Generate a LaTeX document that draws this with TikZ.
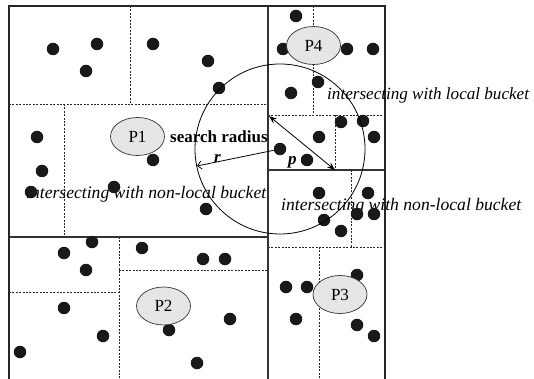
\documentclass[tikz,border=0pt]{standalone}
\usepackage{fontspec}
\setmainfont{Liberation Serif}
\usetikzlibrary{arrows.meta,shapes.geometric}
\begin{document}
\begin{tikzpicture}[x=1pt,y=-1pt,
  dot/.style={circle,fill=black!90,inner sep=0pt,minimum size=12.5pt},
  pnode/.style={ellipse,draw=black!80,line width=0.7pt,fill=black!10,inner sep=0pt,
    minimum width=54pt,minimum height=38pt,font=\fontsize{17}{20}\selectfont},
  dashline/.style={line width=0.7pt,dash pattern=on 2pt off 1.4pt,black!85},
  frameline/.style={line width=2.2pt,black!85},
  solidline/.style={line width=1.5pt,black!80},
  lbl/.style={inner sep=0pt,anchor=base west,font=\fontsize{17.6}{20}\selectfont\itshape},
  conn/.style={line width=0.8pt,black}]
\useasboundingbox (0,0) rectangle (534,379);
\begin{scope}
\clip (0,0) rectangle (534,379);
% dashed bucket borders
\draw[dashline] (9,104) -- (268,104);
\draw[dashline] (130,6) -- (130,104);
\draw[dashline] (64,104) -- (64,237);
\draw[dashline] (119,237) -- (119,390);
\draw[dashline] (9,292) -- (119,292);
\draw[dashline] (119,270) -- (268,270);
\draw[dashline] (313,6) -- (313,115);
\draw[dashline] (268,115) -- (385,115);
\draw[dashline] (335,115) -- (335,170);
\draw[dashline] (351,170) -- (351,247);
\draw[dashline] (268,247) -- (385,247);
\draw[dashline] (319,247) -- (319,390);
% solid partition borders
\draw[solidline] (268,6) -- (268,390);
\draw[solidline] (9,237) -- (268,237);
\draw[solidline] (268,170) -- (385,170);
\draw[frameline] (9,390) -- (9,6) -- (385,6) -- (385,390);
\end{scope}
% labels
\node[lbl] (t1) at (26,198) {intersecting with non-local bucket};
\node[lbl,font=\fontsize{17.1}{20}\selectfont\itshape] (t2) at (327,100) {intersecting with local bucket};
\node[lbl] (t3) at (281,210) {intersecting with non-local bucket};
\node[inner sep=0pt,anchor=base west,font=\fontsize{17}{20}\selectfont\bfseries] (sr) at (170,143) {search radius};
% dots
\foreach \x/\y in {53/49,97/44,86/71,153/44,208/61,219/88,37/137,42/171,153/160,114/187,31/192,
  296/16,283/49,347/49,373/49,318/82,291/93,341/122,363/121,319/137,374/137,307/160,
  206/209,92/242,64/253,86/270,142/248,203/259,225/259,64/308,103/336,20/352,169/330,230/319,197/363,
  319/193,368/193,357/214,374/214,324/220,341/231,357/275,286/287,307/287,296/319,357/325,374/336}
  \node[dot] at (\x,\y) {};
\node[dot] (c) at (280,149) {};
% partitions
\node[pnode] (p1) at (137.5,136.5) {P1};
\node[pnode] (p4) at (313.5,45.5) {P4};
\node[pnode] (p2) at (163.5,306) {P2};
\node[pnode] (p3) at (340,294.5) {P3};
% search circle
\draw[line width=0.8pt] (c.center) circle[radius=85pt];
\coordinate (rp) at (197,166);
\coordinate (pa) at (269,116);
\coordinate (pb) at (335,170);
\draw[conn,-{Straight Barb[length=4pt,width=8pt]}] (c) -- (rp);
\draw[conn,{Stealth[length=8pt,width=6pt]}-{Stealth[length=8pt,width=6pt]}] (pa) -- (pb);
\node[inner sep=0pt,anchor=base west,font=\fontsize{17}{20}\selectfont\bfseries\itshape] (rl) at (214,163) {r};
\node[inner sep=0pt,anchor=base west,font=\fontsize{17}{20}\selectfont\bfseries\itshape] (pl) at (288,165) {p};
\end{tikzpicture}
\end{document}
